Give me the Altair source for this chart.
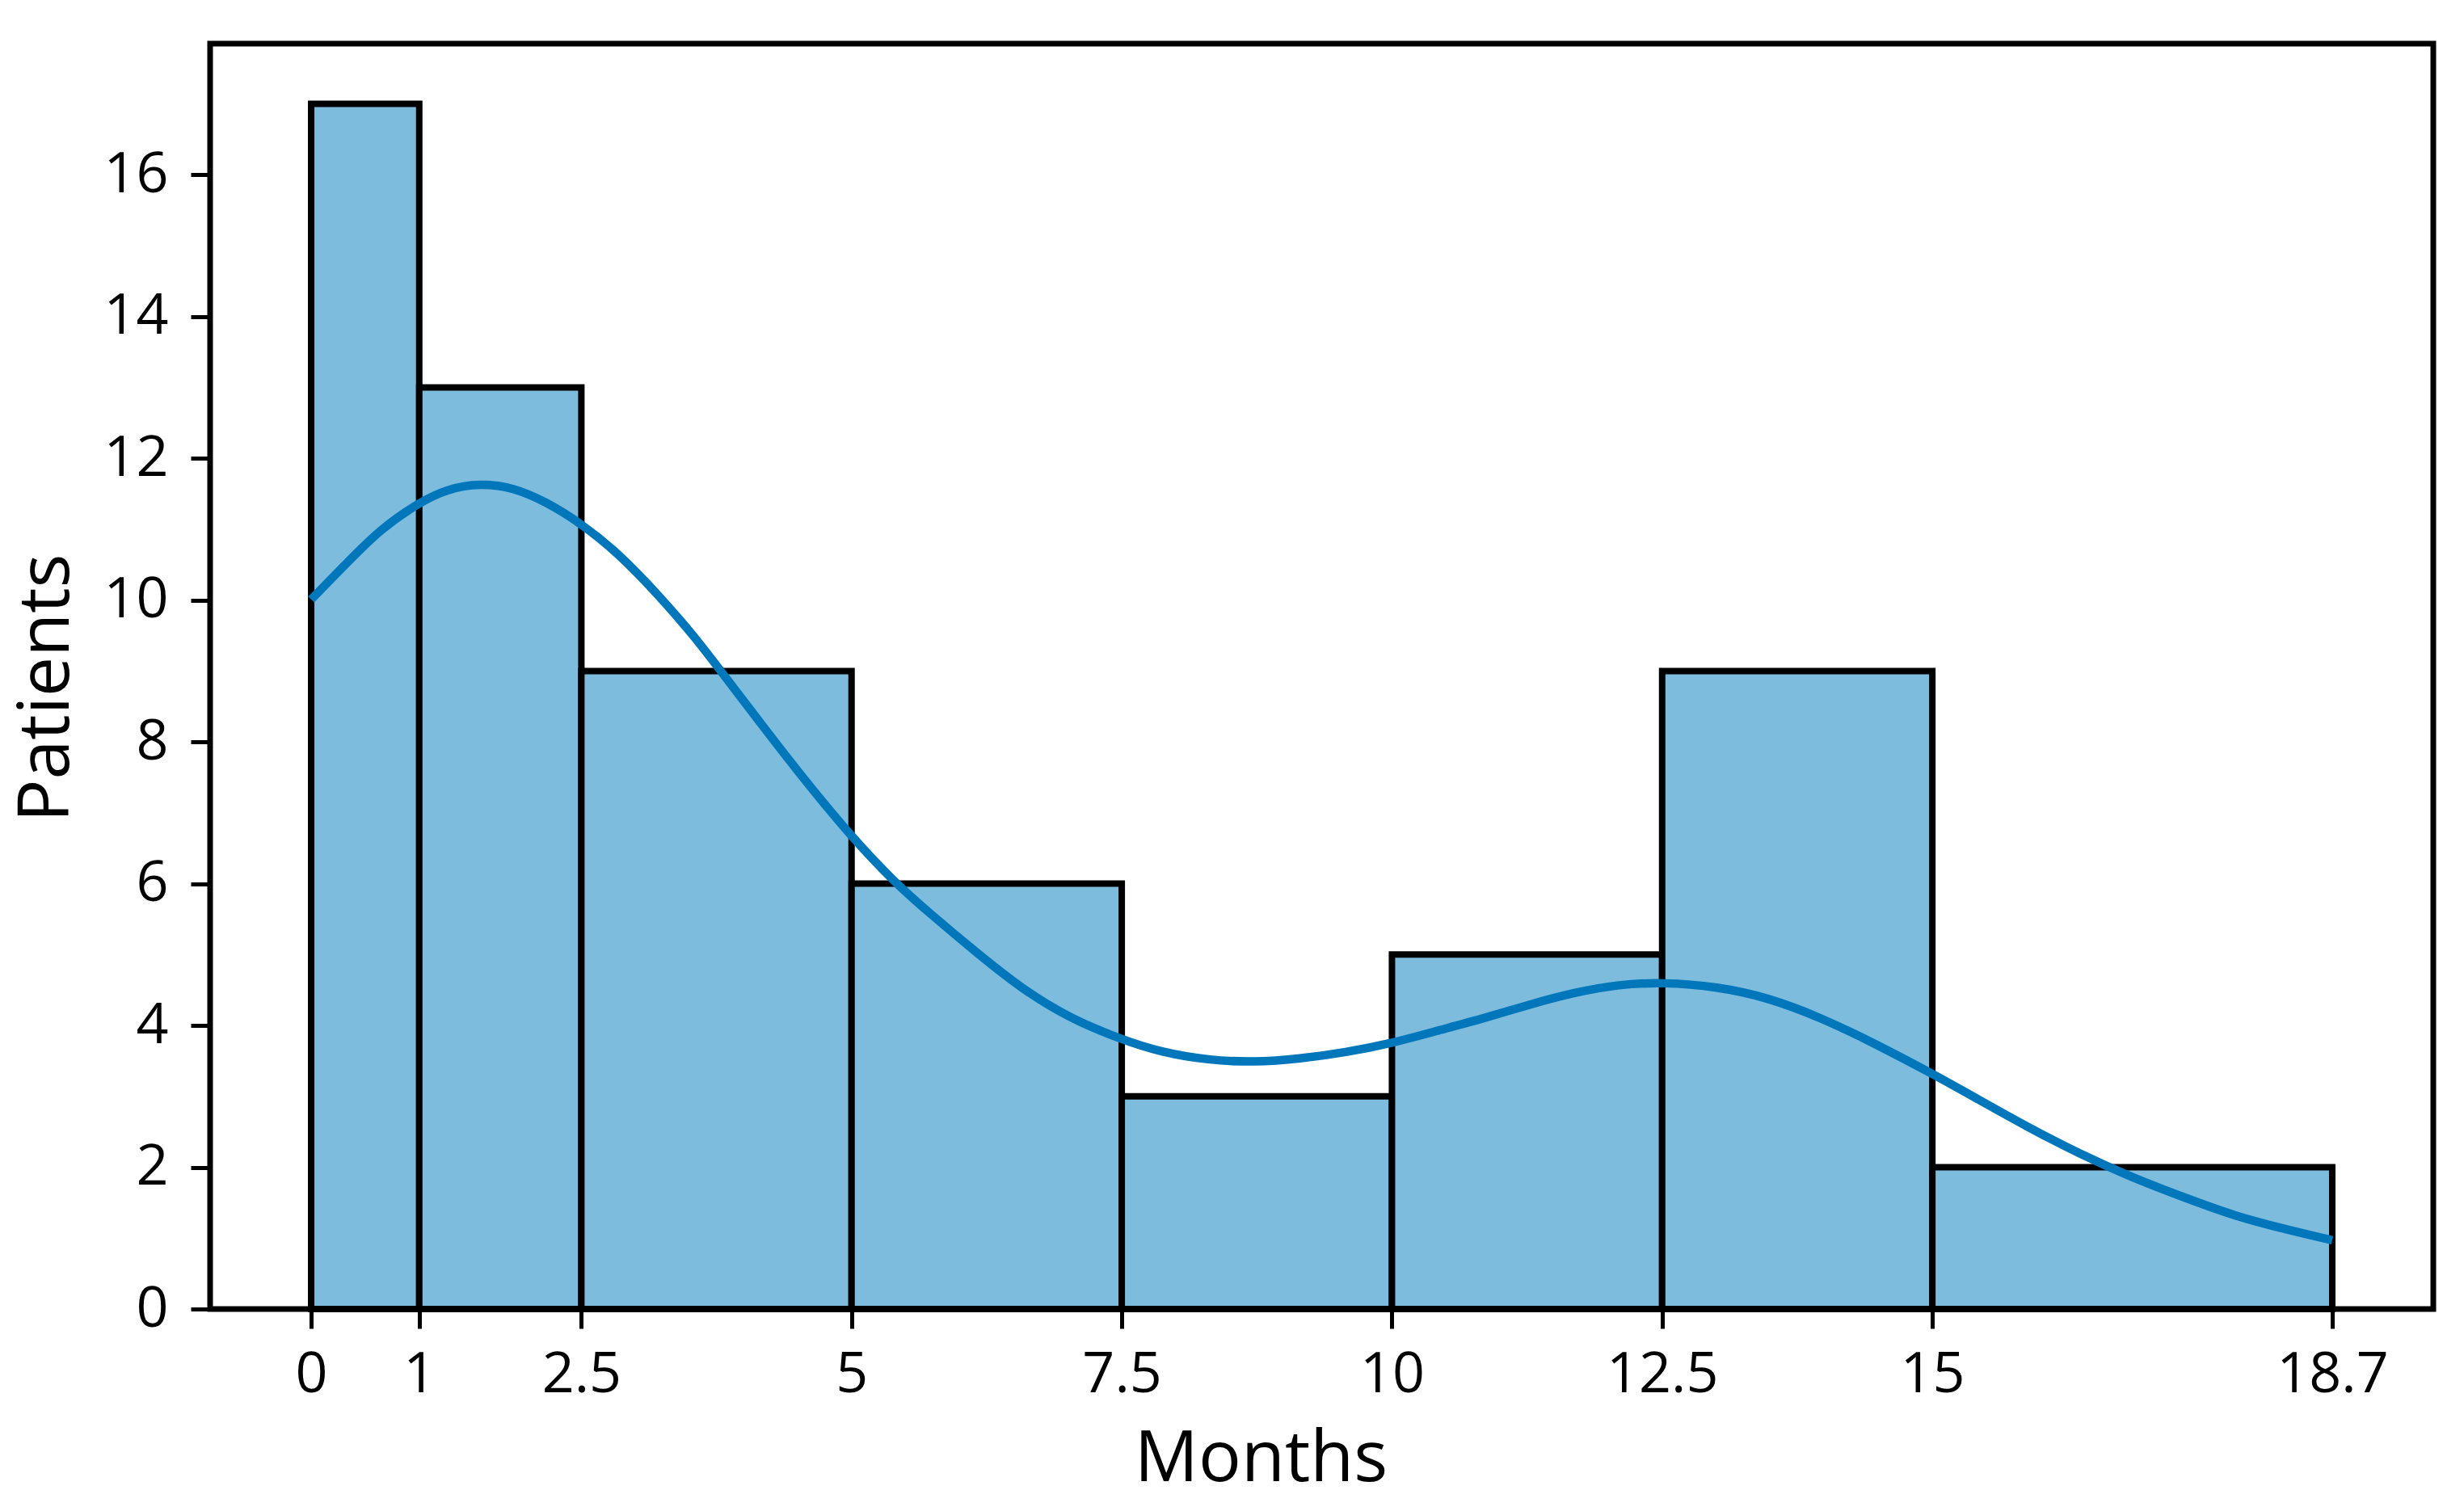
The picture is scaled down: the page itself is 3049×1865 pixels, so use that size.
import altair as alt
import pandas as pd

# Histogram bins (months) and counts
bin_start = [0, 1, 2.5, 5, 7.5, 10, 12.5, 15]
bin_end = [1, 2.5, 5, 7.5, 10, 12.5, 15, 18.7]
counts = [17, 13, 9, 6, 3, 5, 9, 2]

# KDE curve
kde_x = [0, 0.34, 0.64, 0.99, 1.26, 1.56, 1.87, 2.17, 2.49, 2.83, 3.21, 3.55,
         3.78, 4.17, 4.55, 5.0, 5.39, 5.74, 6.17, 6.59, 7.02, 7.5, 7.87, 8.3,
         8.72, 9.15, 9.57, 10.0, 10.43, 10.85, 11.28, 11.7, 12.1, 12.5, 13.01,
         13.49, 13.97, 14.45, 15.0, 15.41, 15.89, 16.36, 16.84, 17.32, 17.8,
         18.28, 18.7]
kde_y = [10.01, 10.54, 11.0, 11.37, 11.57, 11.65, 11.59, 11.39, 11.09, 10.68,
         10.08, 9.48, 9.02, 8.24, 7.49, 6.66, 6.03, 5.56, 5.01, 4.5, 4.1, 3.8,
         3.62, 3.51, 3.48, 3.53, 3.62, 3.75, 3.93, 4.1, 4.3, 4.47, 4.58, 4.61,
         4.55, 4.39, 4.11, 3.76, 3.32, 2.97, 2.56, 2.19, 1.86, 1.58, 1.31, 1.12,
         0.97]

x_ticks = [0, 1, 2.5, 5, 7.5, 10, 12.5, 15, 18.7]
y_ticks = [0, 2, 4, 6, 8, 10, 12, 14, 16]

bars = pd.DataFrame({"start": bin_start, "end": bin_end, "count": counts})
kde = pd.DataFrame({"start": kde_x, "count": kde_y})

FONT = "Open Sans"
W, H = 2751, 1566

xscale = alt.Scale(domain=[-0.935, 19.635], nice=False, zero=False)
yscale = alt.Scale(domain=[0, 17.85], nice=False, zero=False)

xaxis = alt.Axis(
    values=x_ticks, labelExpr="'' + datum.value", title="Months", grid=False,
    domain=False, tickColor="black", tickWidth=5, tickSize=24, labelPadding=23,
    labelFont=FONT, labelFontSize=70, labelColor="black",
    titleFont=FONT, titleFontSize=88, titleFontWeight="normal", titleColor="black",
    titleX=1300, titleY=212, titleBaseline="alphabetic", titleAlign="center",
    labelFlush=False, labelOverlap=False)
yaxis = alt.Axis(
    values=y_ticks, title="Patients", grid=False, domain=False,
    tickColor="black", tickWidth=5, tickSize=24, labelPadding=28,
    labelFont=FONT, labelFontSize=70, labelColor="black",
    titleFont=FONT, titleFontSize=88, titleFontWeight="normal", titleColor="black",
    titleX=-176, titleY=797, titleBaseline="alphabetic", titleAlign="center",
    titleAngle=270, labelFlush=False, labelOverlap=False)

hist = alt.Chart(bars).mark_rect(
    fill="#7EBCDE", stroke="black", strokeWidth=8
).encode(
    x=alt.X("start:Q", scale=xscale, axis=xaxis),
    x2="end:Q",
    y=alt.Y("count:Q", scale=yscale, axis=yaxis),
    y2=alt.datum(0),
)

line = alt.Chart(kde).mark_line(
    color="#0077BB", strokeWidth=10.5, interpolate="basis"
).encode(
    x=alt.X("start:Q", scale=xscale, axis=xaxis),
    y=alt.Y("count:Q", scale=yscale, axis=yaxis),
)

chart = alt.layer(hist, line).properties(
    width=W, height=H,
    autosize=alt.AutoSizeParams(type="none"),
    padding={"left": 252, "top": 46, "right": 25, "bottom": 237},
    background="white",
).configure_view(stroke="black", strokeWidth=7)

chart.save("out.html", embed_options={"renderer": "svg", "actions": False})
